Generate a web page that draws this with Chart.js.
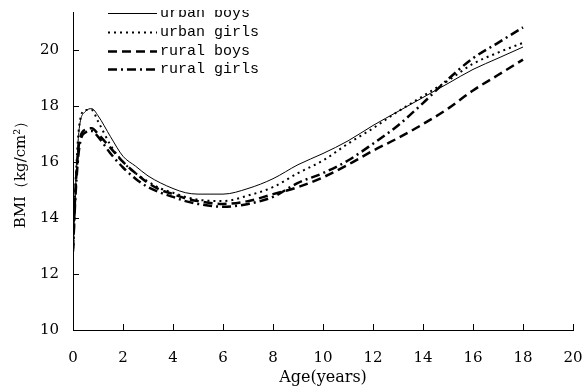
<!DOCTYPE html>
<html>
<head>
<meta charset="utf-8">
<script src="https://cdn.jsdelivr.net/npm/chart.js@4"></script>
<style>
  body { margin: 0; background: #fff; }
  canvas { display: block; }
</style>
</head>
<body>
<canvas id="bmiChart" width="585" height="389"></canvas>
<script>
// Age in years (x values shared by all series)
const ages = [0, 0.1, 0.25, 0.5, 0.75, 1, 1.5, 2, 2.5, 3, 3.5, 4, 4.5, 5, 6, 7, 8, 9, 10, 11, 12, 13, 14, 15, 16, 17, 18];

// BMI values
const urbanBoys  = [12.6, 15.0, 17.2, 17.8, 17.9, 17.65, 16.9, 16.2, 15.85, 15.5, 15.25, 15.05, 14.9, 14.85, 14.85, 15.05, 15.4, 15.9, 16.3, 16.75, 17.3, 17.8, 18.3, 18.8, 19.3, 19.7, 20.1];
const urbanGirls = [12.8, 15.2, 17.3, 17.85, 17.85, 17.45, 16.6, 16.0, 15.6, 15.3, 15.05, 14.9, 14.75, 14.65, 14.6, 14.8, 15.1, 15.6, 16.05, 16.65, 17.2, 17.8, 18.35, 18.9, 19.5, 19.9, 20.25];
const ruralBoys  = [12.9, 15.0, 16.7, 17.15, 17.2, 17.0, 16.5, 16.0, 15.6, 15.25, 15.0, 14.85, 14.7, 14.6, 14.5, 14.6, 14.85, 15.1, 15.45, 15.9, 16.4, 16.85, 17.35, 17.9, 18.55, 19.1, 19.65];
const ruralGirls = [12.8, 14.8, 16.5, 17.05, 17.1, 16.9, 16.3, 15.8, 15.4, 15.1, 14.9, 14.75, 14.6, 14.5, 14.4, 14.5, 14.75, 15.25, 15.6, 16.05, 16.65, 17.3, 18.1, 18.95, 19.7, 20.25, 20.8];

const xTicks = [0, 2, 4, 6, 8, 10, 12, 14, 16, 18, 20];
const yTicks = [10, 12, 14, 16, 18, 20];

const serif = '"DejaVu Serif", "Liberation Serif", serif';
const mono = '"Liberation Mono", "DejaVu Sans Mono", monospace';

function pts(vals) {
    return ages.map((a, i) => ({ x: a, y: vals[i] }));
}

const series = [
    { label: 'urban boys',  data: urbanBoys,  width: 1,   dash: [] },
    { label: 'urban girls', data: urbanGirls, width: 2,   dash: [2, 4] },
    { label: 'rural boys',  data: ruralBoys,  width: 2.5, dash: [9, 5] },
    { label: 'rural girls', data: ruralGirls, width: 2.5, dash: [9, 4, 2, 4] }
];

// inward tick marks on both axes
const innerTicks = {
    id: 'innerTicks',
    afterDraw(chart) {
        const ctx = chart.ctx;
        const xs = chart.scales.x, ys = chart.scales.y;
        ctx.save();
        ctx.strokeStyle = '#000';
        ctx.lineWidth = 1;
        ctx.beginPath();
        xTicks.forEach(v => {
            const px = Math.round(xs.getPixelForValue(v)) + 0.5;
            ctx.moveTo(px, ys.bottom);
            ctx.lineTo(px, ys.bottom - 6);
        });
        yTicks.forEach(v => {
            const py = Math.round(ys.getPixelForValue(v)) + 0.5;
            ctx.moveTo(xs.left, py);
            ctx.lineTo(xs.left + 6, py);
        });
        ctx.stroke();
        ctx.restore();
    }
};

// legend in the top left of the plot (top row clipped like the original)
const legendBox = {
    id: 'legendBox',
    afterDraw(chart) {
        const ctx = chart.ctx;
        ctx.save();
        ctx.beginPath();
        ctx.rect(0, 10, chart.width, chart.height);
        ctx.clip();
        ctx.font = '15px ' + mono;
        ctx.textBaseline = 'middle';
        ctx.fillStyle = '#000';
        const rows = [13, 32, 51, 69];
        chart.data.datasets.forEach((ds, i) => {
            const y = rows[i] + 0.5;
            ctx.strokeStyle = '#000';
            ctx.lineWidth = ds.borderWidth;
            ctx.setLineDash(ds.borderDash);
            ctx.beginPath();
            ctx.moveTo(108, y);
            ctx.lineTo(157, y);
            ctx.stroke();
            ctx.setLineDash([]);
            ctx.fillText(ds.label, 160, rows[i]);
        });
        ctx.restore();
    }
};

new Chart(document.getElementById('bmiChart').getContext('2d'), {
    type: 'line',
    data: {
        datasets: series.map(s => ({
            label: s.label,
            data: pts(s.data),
            borderColor: '#000',
            borderWidth: s.width,
            borderDash: s.dash,
            pointRadius: 0,
            cubicInterpolationMode: 'monotone',
            fill: false
        }))
    },
    options: {
        responsive: false,
        animation: false,
        layout: { padding: { top: 12, right: 12, left: 0, bottom: 0 } },
        plugins: {
            legend: { display: false },
            tooltip: { enabled: false }
        },
        scales: {
            x: {
                type: 'linear',
                min: 0,
                max: 20,
                afterFit(scale) {
                    scale.height = 59;
                    scale.paddingLeft = 0;
                    scale.paddingRight = 0;
                },
                border: { display: true, color: '#000', width: 1 },
                grid: { display: false },
                ticks: {
                    stepSize: 2,
                    color: '#000',
                    padding: 11,
                    maxRotation: 0,
                    font: { family: serif, size: 15 }
                },
                title: {
                    display: true,
                    text: 'Age(years)',
                    color: '#000',
                    padding: { top: 0, bottom: 2 },
                    font: { family: serif, size: 16 }
                }
            },
            y: {
                min: 10,
                max: 21.35,
                afterFit(scale) {
                    scale.width = 73;
                    scale.paddingTop = 0;
                    scale.paddingBottom = 0;
                },
                border: { display: true, color: '#000', width: 1 },
                grid: { display: false },
                ticks: {
                    stepSize: 2,
                    includeBounds: false,
                    color: '#000',
                    padding: 6,
                    font: { family: serif, size: 15 }
                },
                title: {
                    display: true,
                    text: 'BMI（kg/cm²）',
                    color: '#000',
                    padding: { top: 12, bottom: 0 },
                    font: { family: serif, size: 15 }
                }
            }
        }
    },
    plugins: [innerTicks, legendBox]
});
</script>
</body>
</html>
